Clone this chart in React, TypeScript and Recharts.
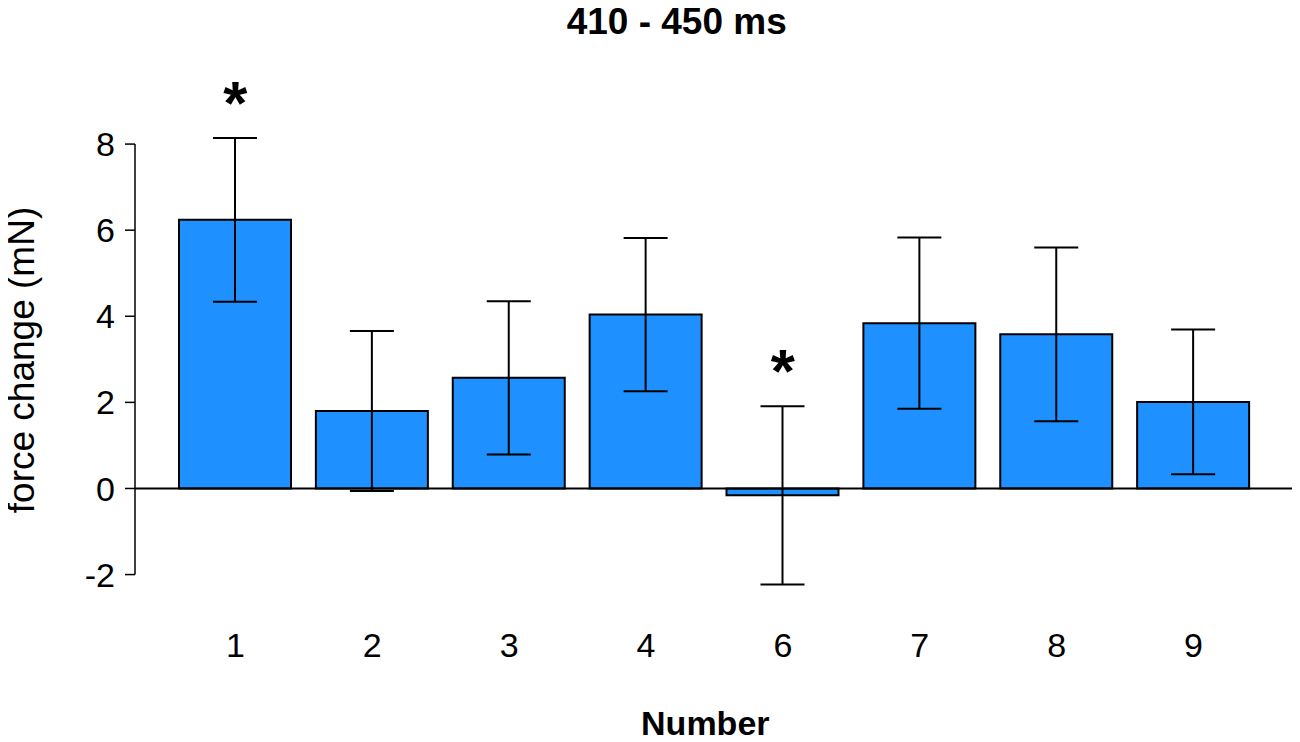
import {
  Bar,
  ComposedChart,
  Customized,
  ErrorBar,
  ReferenceLine,
  Scatter,
  XAxis,
  YAxis,
} from "recharts";

const FONT = "'Liberation Sans', Arial, sans-serif";

// values (410 - 450 ms window)
const numbers = ["1", "2", "3", "4", "6", "7", "8", "9"];
const forceChange = [6.24, 1.8, 2.57, 4.04, -0.16, 3.84, 3.58, 2.01];
const errors = [1.9, 1.86, 1.78, 1.78, 2.07, 1.99, 2.02, 1.68];
const significant = [true, false, false, false, true, false, false, false];
const yTicks = [-2, 0, 2, 4, 6, 8];

// the asterisk sits a bit above the top of the error bar
const STAR_GAP = 1.1;

const data = numbers.map((num, i) => ({
  num,
  force: forceChange[i],
  err: errors[i],
  star: significant[i] ? forceChange[i] + errors[i] + STAR_GAP : null,
}));

const Star = (props: any) => {
  const { cx, cy, payload } = props;
  if (payload == null || payload.star == null) return <g />;
  return (
    <text
      x={cx}
      y={cy}
      dy={33}
      textAnchor="middle"
      fontSize={62}
      fontWeight="bold"
      fontFamily={FONT}
      fill="#000"
    >
      *
    </text>
  );
};

const Texts = () => (
  <g fontFamily={FONT} fill="#000">
    <text x={676.7} y={34} textAnchor="middle" fontSize={37} fontWeight="bold">
      410 - 450 ms
    </text>
    <text transform="translate(33.7,360) rotate(-90)" textAnchor="middle" fontSize={37}>
      force change (mN)
    </text>
    <text x={705.3} y={735} textAnchor="middle" fontSize={34} fontWeight="bold">
      Number
    </text>
  </g>
);

export default function App() {
  // pull the chart over the body's 8px margin so it fills the page
  return (
    <div style={{ width: 1300, height: 742, margin: "-8px 0 0 -8px" }}>
      <ComposedChart
        width={1300}
        height={742}
        data={data}
        margin={{ top: 79.5, right: 6, bottom: 45.9, left: 55 }}
      >
        <XAxis
          dataKey="num"
          height={100}
          padding={{ left: 32, right: 32 }}
          axisLine={false}
          tickLine={false}
          tickSize={0}
          tickMargin={37}
          tick={{ fontSize: 34, fill: "#000", fontFamily: FONT }}
          interval={0}
        />
        <XAxis xAxisId="frame" type="number" domain={[0, 1]} hide />
        <YAxis
          domain={[-2.5, 9.5]}
          ticks={yTicks}
          interval={0}
          width={80}
          axisLine={false}
          tickLine={{ stroke: "#000", strokeWidth: 1.5 }}
          tickSize={10}
          tickMargin={10}
          tick={{ fontSize: 34, fill: "#000", fontFamily: FONT }}
        />
        <ReferenceLine
          xAxisId="frame"
          segment={[
            { x: 0, y: -2 },
            { x: 0, y: 8 },
          ]}
          stroke="#000"
          strokeWidth={1.5}
        />
        <ReferenceLine y={0} stroke="#000" strokeWidth={2} />
        <Bar
          dataKey="force"
          fill="#1E90FF"
          stroke="#000"
          strokeWidth={2}
          barSize={112}
          isAnimationActive={false}
        >
          <ErrorBar dataKey="err" width={22} stroke="#000" strokeWidth={2} direction="y" />
        </Bar>
        <Scatter dataKey="star" shape={Star} isAnimationActive={false} />
        <Customized component={Texts} />
      </ComposedChart>
    </div>
  );
}
